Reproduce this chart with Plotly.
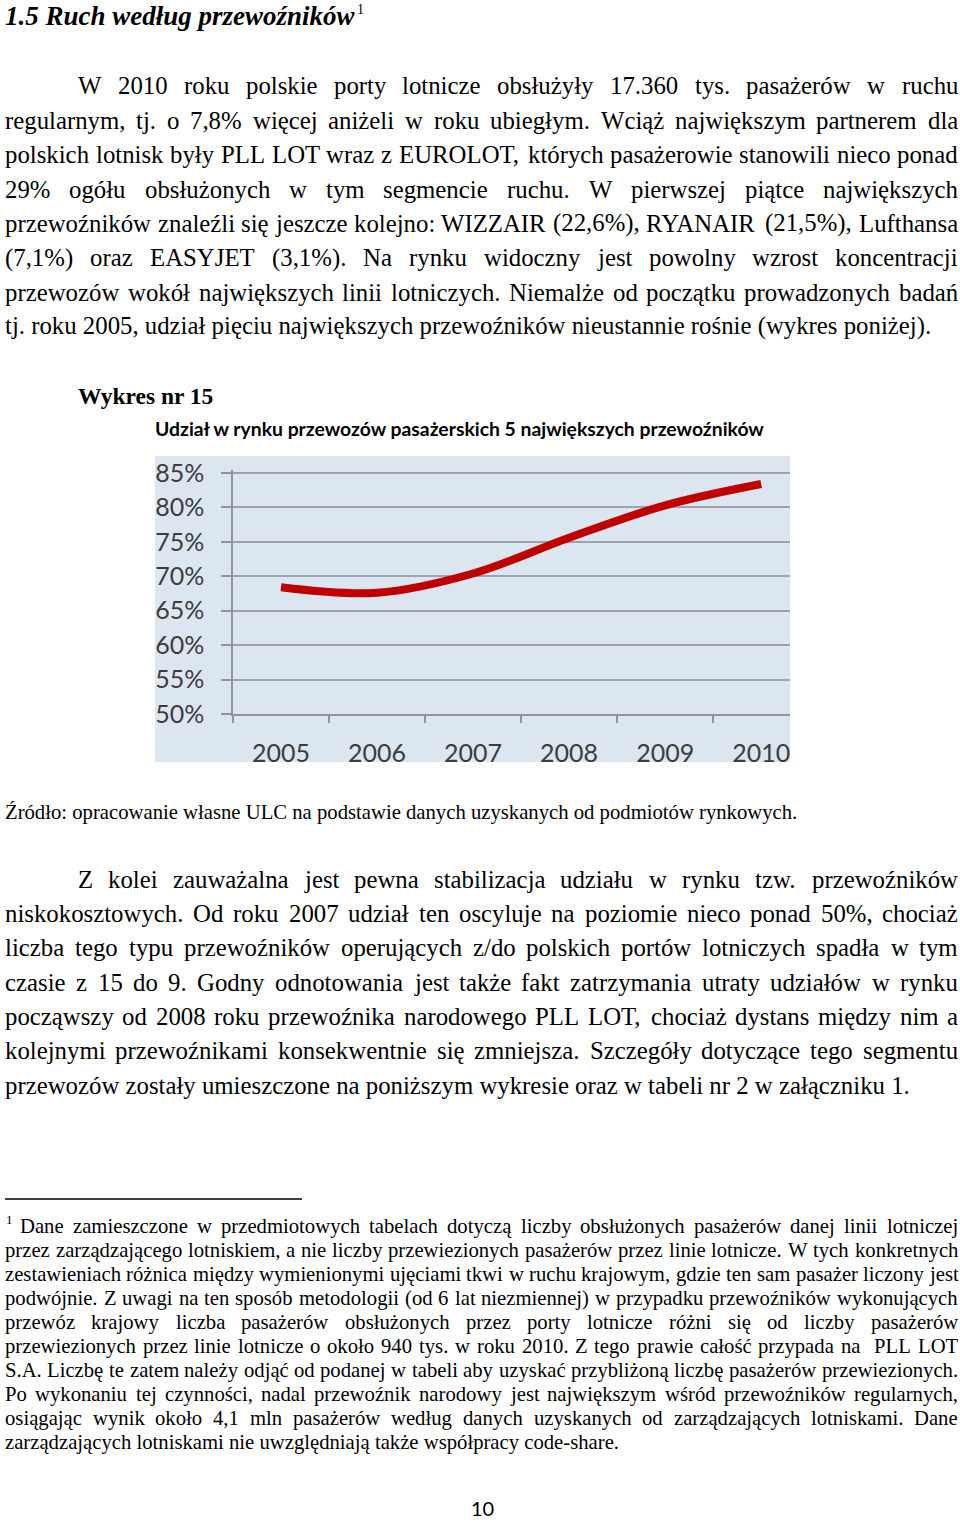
import plotly.graph_objects as go

# ---------------- data ----------------
years = ["2005", "2006", "2007", "2008", "2009", "2010"]
share_top5 = [68.4, 67.6, 70.4, 75.6, 80.3, 83.4]
y_tick_values = [50, 55, 60, 65, 70, 75, 80, 85]
y_tick_labels = ["50%", "55%", "60%", "65%", "70%", "75%", "80%", "85%"]

heading = "1.5 Ruch według przewoźników"
chart_label = "Wykres nr 15"
chart_title = "Udział w rynku przewozów pasażerskich 5 największych przewoźników"
source_note = "Źródło: opracowanie własne ULC na podstawie danych uzyskanych od podmiotów rynkowych."
page_number = "10"

para1 = [
    "W 2010 roku polskie porty lotnicze obsłużyły 17.360 tys. pasażerów w ruchu",
    "regularnym, tj. o 7,8% więcej aniżeli w roku ubiegłym. Wciąż największym partnerem dla",
    "polskich lotnisk były PLL LOT wraz z EUROLOT, których pasażerowie stanowili nieco ponad",
    "29% ogółu obsłużonych w tym segmencie ruchu. W pierwszej piątce największych",
    "przewoźników znaleźli się jeszcze kolejno: WIZZAIR (22,6%), RYANAIR (21,5%), Lufthansa",
    "(7,1%) oraz EASYJET (3,1%). Na rynku widoczny jest powolny wzrost koncentracji",
    "przewozów wokół największych linii lotniczych. Niemalże od początku prowadzonych badań",
    "tj. roku 2005, udział pięciu największych przewoźników nieustannie rośnie (wykres poniżej).",
]
para2 = [
    "Z kolei zauważalna jest pewna stabilizacja udziału w rynku tzw. przewoźników",
    "niskokosztowych. Od roku 2007 udział ten oscyluje na poziomie nieco ponad 50%, chociaż",
    "liczba tego typu przewoźników operujących z/do polskich portów lotniczych spadła w tym",
    "czasie z 15 do 9. Godny odnotowania jest także fakt zatrzymania utraty udziałów w rynku",
    "począwszy od 2008 roku przewoźnika narodowego PLL LOT, chociaż dystans między nim a",
    "kolejnymi przewoźnikami konsekwentnie się zmniejsza. Szczegóły dotyczące tego segmentu",
    "przewozów zostały umieszczone na poniższym wykresie oraz w tabeli nr 2 w załączniku 1.",
]
footnote = [
    "Dane zamieszczone w przedmiotowych tabelach dotyczą liczby obsłużonych pasażerów danej linii lotniczej",
    "przez zarządzającego lotniskiem, a nie liczby przewiezionych pasażerów przez linie lotnicze. W tych konkretnych",
    "zestawieniach różnica między wymienionymi ujęciami tkwi w ruchu krajowym, gdzie ten sam pasażer liczony jest",
    "podwójnie. Z uwagi na ten sposób metodologii (od 6 lat niezmiennej) w przypadku przewoźników wykonujących",
    "przewóz krajowy liczba pasażerów obsłużonych przez porty lotnicze różni się od liczby pasażerów",
    "przewiezionych przez linie lotnicze o około 940 tys. w roku 2010. Z tego prawie całość przypada na  PLL LOT",
    "S.A. Liczbę te zatem należy odjąć od podanej w tabeli aby uzyskać przybliżoną liczbę pasażerów przewiezionych.",
    "Po wykonaniu tej czynności, nadal przewoźnik narodowy jest największym wśród przewoźników regularnych,",
    "osiągając wynik około 4,1 mln pasażerów według danych uzyskanych od zarządzających lotniskami. Dane",
    "zarządzających lotniskami nie uwzględniają także współpracy code-share.",
]

# ---------------- layout helpers ----------------
W, H = 960, 1522
SERIF = "Liberation Serif, Times New Roman, serif"
SANS = "Lato, Open Sans, sans-serif"

_TW = {' ': 250, '!': 333, '%': 833, '(': 333, ')': 333, ',': 250, '-': 333, '.': 250,
       '/': 278, ':': 278, ';': 278, '?': 444,
       'A': 722, 'B': 667, 'C': 667, 'D': 722, 'E': 611, 'F': 556, 'G': 722, 'H': 722,
       'I': 333, 'J': 389, 'K': 722, 'L': 611, 'M': 889, 'N': 722, 'O': 722, 'P': 556,
       'Q': 722, 'R': 667, 'S': 556, 'T': 611, 'U': 722, 'V': 722, 'W': 944, 'X': 722,
       'Y': 722, 'Z': 611,
       'a': 444, 'b': 500, 'c': 444, 'd': 500, 'e': 444, 'f': 333, 'g': 500, 'h': 500,
       'i': 278, 'j': 278, 'k': 500, 'l': 278, 'm': 778, 'n': 500, 'o': 500, 'p': 500,
       'q': 500, 'r': 333, 's': 389, 't': 278, 'u': 500, 'v': 500, 'w': 722, 'x': 500,
       'y': 500, 'z': 444}
_BASE = dict(zip("ąćęłńóśźżĄĆĘŁŃÓŚŹŻ", "acelnoszzACELNOSZZ"))


def text_width(s, size):
    tot = 0
    for ch in s:
        ch = _BASE.get(ch, ch)
        tot += _TW.get(ch, 500)
    return tot * size / 1000.0


annotations = []


def put(x, y, text, size, family=SERIF, color="#000000", xanchor="left", weight="normal", style="normal"):
    annotations.append(dict(
        x=x / W, y=1 - y / H, xref="paper", yref="paper", text=text, showarrow=False,
        xanchor=xanchor, yanchor="middle", borderpad=0, borderwidth=0,
        font=dict(family=family, size=size, color=color, weight=weight, style=style),
    ))


def paragraph(lines, y0, dy, size, left=5, right=958, first_indent=None):
    for i, line in enumerate(lines):
        y = y0 + i * dy
        x0 = left
        if i == 0 and first_indent is not None:
            x0 = first_indent
        if i == len(lines) - 1:
            put(x0, y, line, size)
            continue
        words = line.split(" ")
        widths = [text_width(w, size) for w in words]
        gap = (right - x0 - sum(widths)) / (len(words) - 1)
        x = x0
        for w, wd in zip(words, widths):
            if w:
                put(x, y, w, size)
            x += wd + gap


BODY = 24.8
NOTE = 20.7

put(5, 16, heading, 27, weight="bold", style="italic")
put(357, 9, "1", 14)
paragraph(para1, 86, 34.35, BODY, first_indent=78)
put(78, 396, chart_label, 23.5, weight="bold")
put(155, 428, chart_title, 19.35, family=SANS, weight="bold")
put(5, 813, source_note, NOTE)
paragraph(para2, 879, 34.35, BODY, first_indent=78)
put(6, 1219, "1", 13)
paragraph(footnote, 1226, 24.0, NOTE, left=5, first_indent=20)
put(482, 1508, page_number, 20, family=SANS, xanchor="center")

# ---------------- figure ----------------
fig = go.Figure()
fig.add_trace(go.Scatter(
    x=years, y=share_top5, mode="lines",
    line=dict(color="#c00000", width=8, shape="spline", smoothing=1.0),
    hoverinfo="skip",
))

shapes = [
    dict(type="rect", xref="paper", yref="paper", layer="below",
         x0=155 / W, x1=790 / W, y0=1 - 762 / H, y1=1 - 456 / H,
         fillcolor="#dce6f1", line=dict(width=0)),
    dict(type="line", xref="paper", yref="paper",
         x0=5 / W, x1=302 / W, y0=1 - 1199 / H, y1=1 - 1199 / H,
         line=dict(color="#000000", width=1.3)),
]

axis_gray = "#8f959c"
fig.update_layout(
    template="none",
    width=W, height=H, autosize=False,
    margin=dict(l=0, r=0, t=0, b=0, pad=0, autoexpand=False),
    paper_bgcolor="#ffffff", plot_bgcolor="rgba(0,0,0,0)",
    showlegend=False,
    annotations=annotations,
    shapes=shapes,
    xaxis=dict(
        type="category", domain=[233 / W, 790 / W], range=[-0.5, 5.3], automargin=False,
        showgrid=False, zeroline=False, showline=True, linecolor=axis_gray, linewidth=1.5,
        ticks="outside", ticklen=7, tickwidth=1.5, tickcolor=axis_gray, tickson="boundaries",
        tickfont=dict(family=SANS, size=25, color="#3c3c3c"), ticklabelstandoff=16,
        fixedrange=True,
    ),
    yaxis=dict(
        range=[50, 85.4], domain=[1 - 714 / H, 1 - 470.2 / H], automargin=False,
        tickmode="array", tickvals=y_tick_values, ticktext=y_tick_labels,
        showgrid=True, gridcolor="#9ea3a9", gridwidth=1.5, zeroline=False,
        showline=True, linecolor=axis_gray, linewidth=1.5,
        ticks="outside", ticklen=10, tickwidth=1.5, tickcolor=axis_gray,
        tickfont=dict(family=SANS, size=25, color="#3c3c3c"), ticklabelstandoff=12,
        fixedrange=True,
    ),
)

fig.write_html(
    "out.html",
    config={"displayModeBar": False},
    post_script="document.body.style.margin='0';document.body.style.overflow='hidden';",
)
